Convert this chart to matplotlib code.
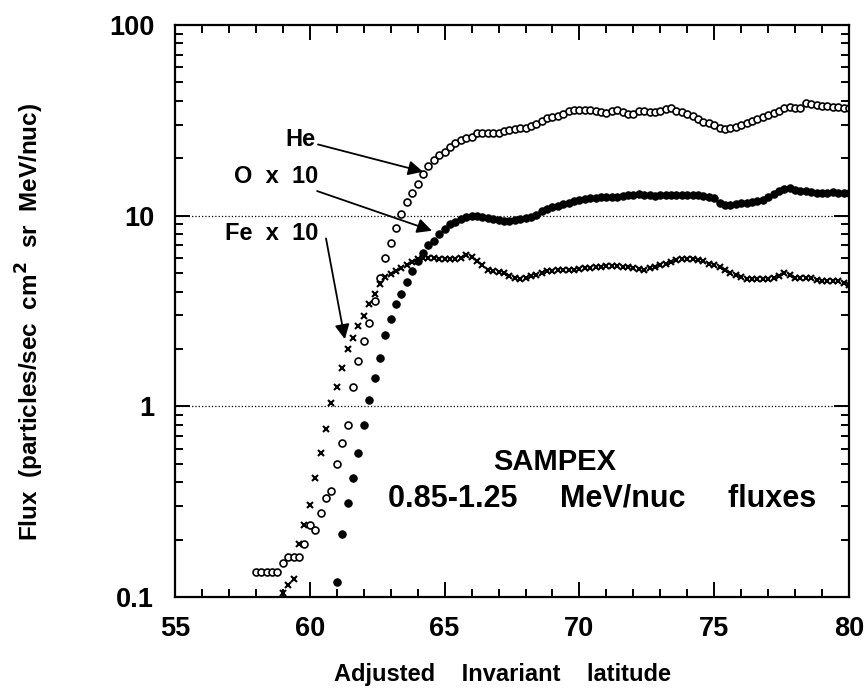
import numpy as np
import matplotlib
matplotlib.use("Agg")
import matplotlib.pyplot as plt
from matplotlib.ticker import FixedLocator, NullFormatter

plt.rcParams['font.family'] = ['Liberation Sans', 'DejaVu Sans']
plt.rcParams['font.weight'] = 'bold'

# 0.2 degree latitude bins
he_lat = np.round(np.arange(58.0, 80.01, 0.2), 1)
fe_lat = np.round(np.arange(59.0, 80.01, 0.2), 1)
o_lat = np.round(np.arange(61.0, 80.01, 0.2), 1)

he_flux = [
    0.135, 0.135, 0.135, 0.135, 0.135, 0.15, 0.163, 0.163, 0.163, 0.19,
    0.24, 0.225, 0.277, 0.33, 0.36, 0.50, 0.64, 0.80, 1.26, 1.73,
    2.2, 2.74, 3.57, 4.7, 6.0, 7.2, 8.6, 10.2, 11.8, 13.2,
    14.7, 16.5, 18.2, 19.5, 20.7, 21.7, 22.8, 24.0, 24.8, 25.4,
    26.0, 27.0, 27.0, 27.0, 27.0, 27.0, 27.8, 28.2, 28.5, 28.7,
    29.0, 29.6, 30.2, 31.5, 32.4, 32.8, 33.4, 34.2, 35.2, 35.7,
    35.7, 35.7, 35.7, 35.5, 34.8, 34.5, 35.3, 35.7, 35.0, 34.0,
    34.2, 35.3, 35.3, 35.0, 35.0, 35.5, 36.2, 36.5, 35.5, 34.8,
    34.0, 33.2, 32.0, 31.0, 30.6, 30.0, 28.7, 28.5, 28.7, 29.3,
    29.8, 30.5, 31.2, 32.0, 32.8, 33.8, 34.4, 35.5, 36.5, 37.0,
    36.8, 36.5, 38.8, 38.4, 38.0, 37.8, 37.4, 37.0, 37.0, 36.8,
    36.5,
]

fe_flux = [
    0.105, 0.115, 0.125, 0.19, 0.24, 0.305, 0.42, 0.57, 0.76, 1.04,
    1.27, 1.58, 2.0, 2.28, 2.64, 2.98, 3.44, 3.9, 4.38, 4.78,
    4.95, 5.1, 5.3, 5.5, 5.7, 5.9, 6.0, 6.0, 6.0, 5.9,
    5.9, 5.9, 5.9, 6.0, 6.2, 6.1, 5.8, 5.5, 5.2, 5.1,
    5.05, 5.0, 4.85, 4.7, 4.66, 4.7, 4.8, 4.9, 5.0, 5.1,
    5.15, 5.2, 5.2, 5.2, 5.2, 5.25, 5.3, 5.3, 5.35, 5.4,
    5.45, 5.45, 5.45, 5.4, 5.35, 5.3, 5.25, 5.2, 5.3, 5.4,
    5.5, 5.6, 5.7, 5.85, 5.9, 5.9, 5.9, 5.85, 5.8, 5.6,
    5.5, 5.35, 5.2, 5.0, 4.9, 4.75, 4.66, 4.66, 4.66, 4.66,
    4.68, 4.7, 4.8, 5.0, 4.9, 4.7, 4.7, 4.7, 4.7, 4.6,
    4.55, 4.55, 4.55, 4.55, 4.45, 4.35,
]

o_flux = [
    0.12, 0.215, 0.31, 0.42, 0.57, 0.80, 1.08, 1.4, 1.79, 2.37,
    2.87, 3.44, 3.9, 4.5, 5.1, 5.8, 6.4, 7.0, 7.4, 8.0,
    8.5, 9.0, 9.3, 9.6, 9.9, 10.0, 10.0, 9.9, 9.7, 9.6,
    9.5, 9.4, 9.4, 9.5, 9.6, 9.7, 9.9, 10.1, 10.6, 10.9,
    11.1, 11.3, 11.5, 11.7, 11.9, 12.1, 12.2, 12.4, 12.4, 12.5,
    12.5, 12.6, 12.6, 12.7, 12.8, 12.9, 13.0, 12.9, 12.8, 12.7,
    12.8, 12.9, 12.9, 12.9, 12.9, 12.9, 12.9, 12.8, 12.7, 12.6,
    12.4, 11.6, 11.4, 11.4, 11.5, 11.6, 11.7, 11.8, 11.9, 12.1,
    12.6, 13.0, 13.4, 13.8, 13.9, 13.7, 13.5, 13.4, 13.3, 13.2,
    13.2, 13.2, 13.3, 13.2, 13.2, 13.2,
]

fig = plt.figure(figsize=(8.66, 6.93), dpi=100)
ax = fig.add_axes([0.2021, 0.1385, 0.7783, 0.8254])

ax.axhline(10, color='k', ls=':', lw=0.9)
ax.axhline(1, color='k', ls=':', lw=0.9)

ax.plot(he_lat, he_flux, ls='none', marker='o', ms=5, mfc='white', mec='k', mew=1.2)
ax.plot(o_lat, o_flux, ls='none', marker='o', ms=5.3, mfc='k', mec='k', mew=0.8)
ax.plot(fe_lat, fe_flux, ls='none', marker='x', ms=5, mec='k', mew=1.5)

ax.set_yscale('log')
ax.set_xlim(55, 80)
ax.set_ylim(0.1, 100)

ax.set_xticks([55, 60, 65, 70, 75, 80])
ax.xaxis.set_minor_locator(FixedLocator(np.arange(55, 81, 1)))
ax.set_yticks([0.1, 1, 10, 100])
ax.set_yticklabels(['0.1', '1', '10', '100'])
ax.yaxis.set_minor_formatter(NullFormatter())
ax.tick_params(which='both', direction='in', top=True, right=True, width=1.4)
ax.tick_params(which='major', length=11, labelsize=19.5)
ax.tick_params(which='minor', length=6)
ax.tick_params(axis='x', which='major', pad=14)
ax.tick_params(axis='y', which='major', pad=15)
for lab in ax.get_xticklabels() + ax.get_yticklabels():
    lab.set_fontweight('bold')
for s in ax.spines.values():
    s.set_linewidth(1.6)

fig.text(502 / 866, 1 - 675 / 693, 'Adjusted    Invariant    latitude', fontsize=17,
         fontweight='bold', ha='center', va='center')
fig.text(30 / 866, 1 - 322 / 693, 'Flux  (particles/sec  cm$^\\mathbf{2}$  sr  MeV/nuc)',
         fontsize=17.5, fontweight='bold', ha='center', va='center', rotation=90)

arrow = dict(arrowstyle='-|>', color='k', lw=1.3, mutation_scale=22, shrinkA=0, shrinkB=0)
ax.annotate('He', xy=(64.2, 17.0), xytext=(60.2, 25), fontsize=17, fontweight='bold',
            ha='right', va='center', arrowprops=arrow)
ax.annotate('O  x  10', xy=(64.53, 8.34), xytext=(60.3, 16.0), fontsize=17, fontweight='bold',
            ha='right', va='center', arrowprops=arrow)
ax.text(60.3, 8.1, 'Fe  x  10', fontsize=17, fontweight='bold', ha='right', va='center')
ax.annotate('', xy=(61.3, 2.25), xytext=(60.6, 7.6), arrowprops=arrow)

ax.text(69.1, 0.51, 'SAMPEX', fontsize=21, fontweight='bold', ha='center', va='center')
ax.text(62.9, 0.33, '0.85-1.25     MeV/nuc     fluxes', fontsize=22, fontweight='bold',
        ha='left', va='center')

fig.savefig('out.png', dpi=100)
